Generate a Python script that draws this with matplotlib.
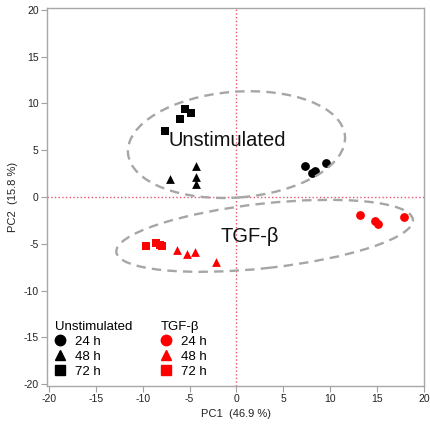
import numpy as np
from matplotlib import pyplot as plt
from matplotlib.patches import Ellipse
from matplotlib.lines import Line2D

plt.rcParams['font.family'] = ['Liberation Sans', 'DejaVu Sans']
plt.rcParams['axes.unicode_minus'] = False

# PCA scores (PC1, PC2) per condition and time point
unstim_24h_pc1 = [7.3, 8.1, 8.4, 9.5]
unstim_24h_pc2 = [3.35, 2.6, 2.8, 3.6]
unstim_48h_pc1 = [-7.1, -4.35, -4.35, -4.3]
unstim_48h_pc2 = [1.9, 3.3, 2.1, 1.4]
unstim_72h_pc1 = [-7.6, -6.0, -5.5, -4.9]
unstim_72h_pc2 = [7.1, 8.3, 9.4, 9.0]

tgf_24h_pc1 = [13.2, 14.8, 15.1, 17.9]
tgf_24h_pc2 = [-1.9, -2.6, -2.85, -2.1]
tgf_48h_pc1 = [-6.3, -5.25, -4.4, -2.2]
tgf_48h_pc2 = [-5.7, -6.05, -5.9, -6.9]
tgf_72h_pc1 = [-9.65, -8.6, -8.2, -7.95]
tgf_72h_pc2 = [-5.2, -4.9, -5.1, -5.2]

# group ellipses: centre, width, height, angle
unstim_ell = ((0.0, 5.6), 23.2, 11.3, 4.5)
tgf_ell = ((3.0, -4.15), 31.8, 6.9, 6.3)

time_labels = ['24 h', '48 h', '72 h']
markers = ['o', '^', 's']

fig = plt.figure(figsize=(4.31, 4.24), dpi=100)
ax = fig.add_axes([0.109, 0.0896, 0.875, 0.8915])

ax.axhline(0, color='#e8546e', linestyle=':', linewidth=1.0, zorder=1)
ax.axvline(0, color='#e8546e', linestyle=':', linewidth=1.0, zorder=1)

unstim = [(unstim_24h_pc1, unstim_24h_pc2), (unstim_48h_pc1, unstim_48h_pc2), (unstim_72h_pc1, unstim_72h_pc2)]
tgf = [(tgf_24h_pc1, tgf_24h_pc2), (tgf_48h_pc1, tgf_48h_pc2), (tgf_72h_pc1, tgf_72h_pc2)]
for (x, y), m in zip(unstim, markers):
    ax.scatter(x, y, marker=m, s=40, color='black', linewidths=0, zorder=3)
for (x, y), m in zip(tgf, markers):
    ax.scatter(x, y, marker=m, s=40, color='#ff0000', linewidths=0, zorder=3)

for (c, w, h, a) in [unstim_ell, tgf_ell]:
    e = Ellipse(c, w, h, angle=a, fill=False, edgecolor='#a6a6a6', linewidth=1.7,
                linestyle=(0, (4, 2.6)), zorder=4)
    ax.add_patch(e)

ax.text(-1.0, 6.0, 'Unstimulated', fontsize=14.5, ha='center', va='center', color='#111111', zorder=5)
ax.text(1.4, -4.2, 'TGF-β', fontsize=14.5, ha='center', va='center', color='#111111', zorder=5)

ax.set_xlim(-20.2, 20.0)
ax.set_ylim(-20.2, 20.2)
ax.set_xticks(np.arange(-20, 21, 5))
ax.set_yticks(np.arange(-20, 21, 5))
ax.tick_params(direction='out', length=4, width=0.8, color='#a0a0a0', labelsize=7.5,
               labelcolor='#222222', pad=2)
for sp in ax.spines.values():
    sp.set_color('#a8a8a8')
    sp.set_linewidth(1.0)

ax.set_xlabel('PC1  (46.9 %)', fontsize=8, color='#222222', labelpad=3)
ax.set_ylabel('PC2  (15.8 %)', fontsize=8, color='#222222', labelpad=4)

def group_legend(title, color, x0):
    handles = [Line2D([], [], linestyle='none', marker=m, color=color, markersize=7.5)
               for m in markers]
    leg = ax.legend(handles, time_labels, title=title, loc='lower left',
                    bbox_to_anchor=(x0, 0.022), frameon=False, borderaxespad=0, borderpad=0,
                    fontsize=9.5, title_fontsize=9.5, alignment='left', handlelength=0.75,
                    handletextpad=0.8, labelspacing=0.2)
    return leg

leg1 = group_legend('Unstimulated', 'black', 0.021)
ax.add_artist(leg1)
group_legend('TGF-β', '#ff0000', 0.302)

fig.savefig('out.png', dpi=100)
